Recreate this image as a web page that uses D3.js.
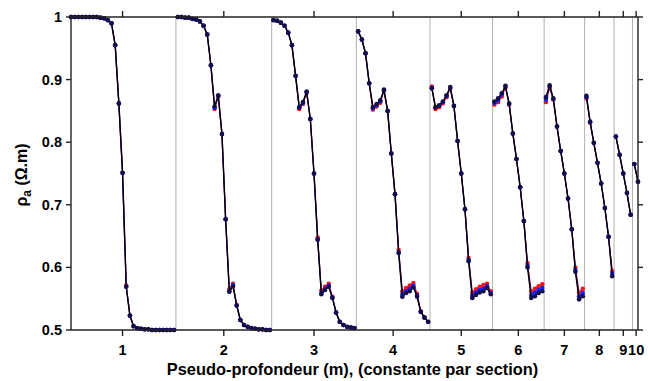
<!DOCTYPE html>
<html><head><meta charset="utf-8">
<script src="https://cdn.jsdelivr.net/npm/d3@7"></script>
<style>body{margin:0;background:#fff}svg{display:block}text{font-family:"Liberation Sans",Arial,sans-serif}</style>
</head><body><svg id="c" width="648" height="381"></svg>
<script>
const sectionCounts = [29,26,23,20,17,14,11,8,5,2];
const xTickLabels = ["1","2","3","4","5","6","7","8","9","10"];
const yTicks = [0.5,0.6,0.7,0.8,0.9,1];
const yTickLabels = ["0.5","0.6","0.7","0.8","0.9","1"];
const blackSeries = [
1.000,1.000,1.000,1.000,1.000,1.000,1.000,1.000,0.999,0.998,0.995,0.990,0.955,0.862,0.751,0.569,0.523,0.506,0.503,0.502,0.501,0.501,0.500,0.500,0.500,0.500,0.500,0.500,0.500,
1.000,1.000,0.999,0.999,0.997,0.996,0.993,0.986,0.972,0.923,0.857,0.875,0.813,0.677,0.561,0.570,0.539,0.516,0.508,0.505,0.503,0.502,0.501,0.501,0.500,0.500,
0.995,0.994,0.991,0.986,0.975,0.955,0.906,0.856,0.864,0.881,0.837,0.750,0.644,0.557,0.564,0.569,0.551,0.528,0.513,0.508,0.505,0.504,0.503,
0.977,0.964,0.942,0.894,0.856,0.861,0.867,0.884,0.850,0.782,0.717,0.623,0.553,0.559,0.562,0.568,0.553,0.529,0.520,0.513,
0.886,0.856,0.859,0.865,0.875,0.888,0.858,0.802,0.750,0.693,0.610,0.551,0.556,0.560,0.562,0.567,0.557,
0.865,0.870,0.878,0.890,0.862,0.814,0.773,0.728,0.674,0.600,0.551,0.554,0.559,0.562,
0.872,0.891,0.870,0.825,0.786,0.750,0.710,0.661,0.593,0.549,0.554,
0.874,0.833,0.799,0.767,0.734,0.695,0.649,0.586,
0.809,0.780,0.750,0.719,0.684,
0.765,0.737];
const redSeries = [
1.000,1.000,1.000,1.000,1.000,1.000,1.000,1.000,0.999,0.998,0.995,0.990,0.955,0.862,0.751,0.571,0.523,0.506,0.503,0.502,0.501,0.501,0.500,0.500,0.500,0.500,0.500,0.500,0.500,
1.000,1.000,0.999,0.999,0.997,0.996,0.993,0.986,0.972,0.923,0.853,0.873,0.813,0.677,0.565,0.574,0.540,0.516,0.508,0.505,0.503,0.502,0.501,0.501,0.500,0.500,
0.995,0.994,0.991,0.986,0.975,0.955,0.906,0.853,0.861,0.879,0.837,0.750,0.648,0.563,0.569,0.574,0.553,0.528,0.513,0.508,0.505,0.504,0.503,
0.977,0.964,0.942,0.894,0.852,0.857,0.863,0.882,0.850,0.782,0.717,0.628,0.562,0.567,0.571,0.575,0.558,0.530,0.520,0.513,
0.889,0.853,0.856,0.862,0.872,0.886,0.858,0.802,0.750,0.693,0.615,0.560,0.565,0.569,0.572,0.574,0.562,
0.860,0.864,0.873,0.887,0.860,0.814,0.773,0.728,0.674,0.607,0.562,0.566,0.570,0.573,
0.864,0.887,0.868,0.825,0.786,0.750,0.710,0.661,0.600,0.560,0.566,
0.870,0.831,0.799,0.767,0.734,0.695,0.649,0.594,
0.809,0.780,0.750,0.719,0.684,
0.765,0.737];
const blueSeries = [
1.000,1.000,1.000,1.000,1.000,1.000,1.000,1.000,0.999,0.998,0.995,0.990,0.955,0.862,0.751,0.569,0.523,0.506,0.503,0.502,0.501,0.501,0.500,0.500,0.500,0.500,0.500,0.500,0.500,
1.000,1.000,0.999,0.999,0.997,0.996,0.993,0.986,0.972,0.923,0.855,0.874,0.813,0.677,0.562,0.572,0.539,0.516,0.508,0.505,0.503,0.502,0.501,0.501,0.500,0.500,
0.995,0.994,0.991,0.986,0.975,0.955,0.906,0.855,0.863,0.880,0.837,0.750,0.645,0.559,0.566,0.571,0.552,0.528,0.513,0.508,0.505,0.504,0.503,
0.977,0.964,0.942,0.894,0.854,0.859,0.865,0.883,0.850,0.782,0.717,0.624,0.557,0.562,0.566,0.571,0.555,0.529,0.520,0.513,
0.887,0.855,0.858,0.864,0.874,0.887,0.858,0.802,0.750,0.693,0.612,0.555,0.560,0.564,0.566,0.570,0.559,
0.863,0.867,0.876,0.889,0.861,0.814,0.773,0.728,0.674,0.603,0.556,0.560,0.564,0.567,
0.868,0.889,0.869,0.825,0.786,0.750,0.710,0.661,0.596,0.554,0.559,
0.872,0.832,0.799,0.767,0.734,0.695,0.649,0.590,
0.809,0.780,0.750,0.719,0.684,
0.765,0.737];

const svg = d3.select("#c");
const L = 71, R = 638, T = 17, B = 330;
const N = blackSeries.length;
const x = d3.scaleLinear().domain([1, N]).range([L, R]);
const y = d3.scaleLinear().domain([0.5, 1]).range([B, T]);

const starts = [];
let acc = 1;
sectionCounts.forEach(c => { starts.push(acc); acc += c; });
const centers = sectionCounts.map((c, k) => starts[k] + (c - 1) / 2);
const seps = starts.slice(1).map(s => s - 0.5);

svg.append("g").selectAll("line").data(seps).join("line")
  .attr("x1", d => x(d)).attr("x2", d => x(d)).attr("y1", T).attr("y2", B)
  .attr("stroke", "#b0b0b0").attr("stroke-width", 1);

function sectionData(series) {
  return sectionCounts.map((c, k) => d3.range(c).map(j => ({i: starts[k] + j, v: series[starts[k] - 1 + j]})));
}
const line = d3.line().x(d => x(d.i)).y(d => y(d.v));

function drawSeries(series, lineColor, lineW, dotColor, r) {
  const g = svg.append("g");
  const secs = sectionData(series);
  g.selectAll("path").data(secs).join("path").attr("d", line)
    .attr("fill", "none").attr("stroke", lineColor).attr("stroke-width", lineW);
  if (dotColor) g.selectAll("circle").data(secs.flat()).join("circle")
    .attr("cx", d => x(d.i)).attr("cy", d => y(d.v)).attr("r", r).attr("fill", dotColor);
}
drawSeries(redSeries, "#ff1010", 1.2, "#ff1010", 2.2);
drawSeries(blueSeries, "#1020ff", 1.2, "#1020ff", 2.2);
drawSeries(blackSeries, "#000000", 1.4, null, 0);
svg.append("g").selectAll("circle").data(sectionData(blackSeries).flat()).join("circle")
  .attr("cx", d => x(d.i)).attr("cy", d => y(d.v)).attr("r", 2.3).attr("fill", "#10104a");

const ax = svg.append("g").attr("stroke", "#222").attr("stroke-width", 1.4);
ax.append("line").attr("x1", L).attr("x2", R).attr("y1", T).attr("y2", T);
ax.append("line").attr("x1", L).attr("x2", R).attr("y1", B).attr("y2", B);
ax.append("line").attr("x1", L).attr("x2", L).attr("y1", T).attr("y2", B);
ax.append("line").attr("x1", R).attr("x2", R).attr("y1", T).attr("y2", B);

ax.selectAll(".xb").data(centers).join("line").attr("x1", d => x(d)).attr("x2", d => x(d)).attr("y1", B).attr("y2", B + 6);
ax.selectAll(".xt").data(centers).join("line").attr("class","xt").attr("x1", d => x(d)).attr("x2", d => x(d)).attr("y1", T).attr("y2", T - 6);
ax.selectAll(".yl").data(yTicks).join("line").attr("class","yl").attr("x1", L - 5).attr("x2", L).attr("y1", d => y(d)).attr("y2", d => y(d));
ax.selectAll(".yr").data(yTicks).join("line").attr("class","yr").attr("x1", R).attr("x2", R + 5).attr("y1", d => y(d)).attr("y2", d => y(d));

svg.append("g").selectAll("text").data(centers).join("text")
  .attr("x", d => x(d)).attr("y", 355).attr("text-anchor", "middle")
  .attr("font-size", 14.5).attr("font-weight", "bold").text((d, k) => xTickLabels[k]);
svg.append("g").selectAll("text").data(yTicks).join("text")
  .attr("x", 62).attr("y", d => y(d) + 5).attr("text-anchor", "end")
  .attr("font-size", 14.5).attr("font-weight", "bold").text((d, k) => yTickLabels[k]);

svg.append("text").attr("x", (L + R) / 2 - 2).attr("y", 375).attr("text-anchor", "middle")
  .attr("font-size", 16.4).attr("font-weight", "bold").text("Pseudo-profondeur (m), (constante par section)");

const yl = svg.append("text").attr("transform", "translate(27,175) rotate(-90)")
  .attr("text-anchor", "middle").attr("font-size", 16).attr("font-weight", "bold");
yl.append("tspan").text("ρ");
yl.append("tspan").attr("font-size", 12).attr("dy", 4).text("a");
yl.append("tspan").attr("dy", -4).text(" (Ω.m)");
</script></body></html>
